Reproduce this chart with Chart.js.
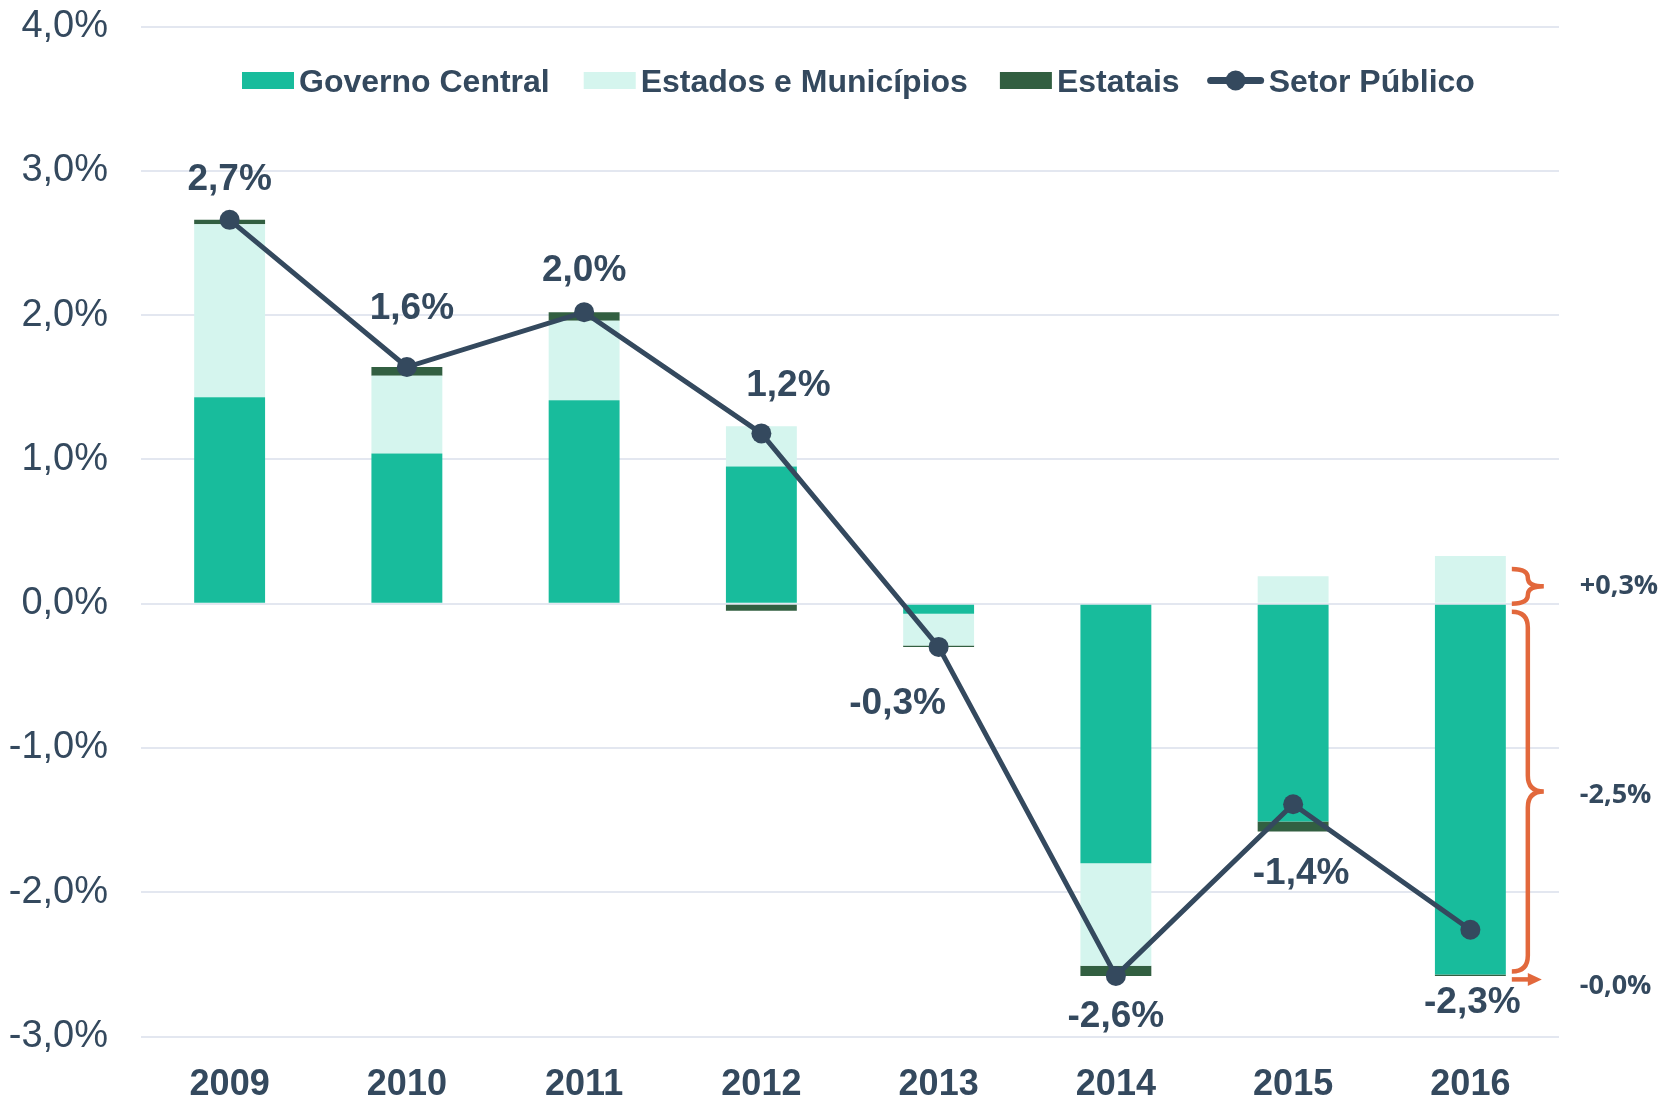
<!DOCTYPE html>
<html>
<head>
<meta charset="utf-8">
<script src="https://cdn.jsdelivr.net/npm/chart.js@4/dist/chart.umd.min.js"></script>
<style>
  html, body { margin: 0; padding: 0; background: #ffffff; }
  #wrap { width: 1661px; height: 1098px; }
</style>
</head>
<body>
<div id="wrap"><canvas id="c" width="1661" height="1098"></canvas></div>
<script>
// ---- data ----
const categories = ['2009', '2010', '2011', '2012', '2013', '2014', '2015', '2016'];
const governoCentral    = [1.43, 1.04, 1.41, 0.95, -0.07, -1.80, -1.51, -2.57];
const estadosMunicipios = [1.20, 0.54, 0.55, 0.28, -0.22, -0.71, 0.19, 0.33];
const estatais          = [0.03, 0.06, 0.06, -0.05, -0.01, -0.07, -0.07, -0.01];
const setorPublico      = [2.66, 1.64, 2.02, 1.18, -0.30, -2.58, -1.39, -2.26];
const seriesNames = ['Governo Central', 'Estados e Municípios', 'Estatais', 'Setor Público'];
const yMin = -3, yMax = 4, yStep = 1;
const bracketTexts = ['+0,3%', '-2,5%', '-0,0%'];

// ---- styles ----
const FONT = '"Liberation Sans", Arial, Helvetica, sans-serif';
const TEXT = '#34495E';
const C_GOV = '#18BC9C', C_EST = '#D5F5EE', C_ESTATAIS = '#325F41', C_LINE = '#34495E';
const ORANGE = '#E2683C';
const labelOffsets = [[0,-40],[5,-58],[0,-41],[27,-48],[-41,57],[0,41],[8,70],[2,73]];

function fmt(v) { return v.toFixed(1).replace('.', ',') + '%'; }

const labelsPlugin = {
  id: 'valueLabels',
  afterDatasetsDraw(chart) {
    const ctx = chart.ctx;
    const meta = chart.getDatasetMeta(3);
    ctx.save();
    ctx.font = 'bold 37px ' + FONT;
    ctx.fillStyle = TEXT;
    ctx.textAlign = 'center';
    ctx.textBaseline = 'middle';
    meta.data.forEach((pt, i) => {
      const o = labelOffsets[i];
      ctx.fillText(fmt(setorPublico[i]), pt.x + o[0], pt.y + o[1]);
    });
    ctx.restore();
  }
};

const legendPlugin = {
  id: 'customLegend',
  afterDraw(chart) {
    const ctx = chart.ctx;
    ctx.save();
    ctx.font = 'bold 32px ' + FONT;
    ctx.textBaseline = 'middle';
    ctx.textAlign = 'left';
    const colors = [C_GOV, C_EST, C_ESTATAIS, C_LINE];
    const gaps = [34, 32, 28];
    let x = 242;
    const boxY = 72, boxH = 17, textY = 83;
    seriesNames.forEach((name, i) => {
      if (i < 3) {
        ctx.fillStyle = colors[i];
        ctx.fillRect(x, boxY, 52, boxH);
        x += 52;
      } else {
        ctx.strokeStyle = C_LINE;
        ctx.lineWidth = 7;
        ctx.lineCap = 'round';
        ctx.beginPath();
        ctx.moveTo(x + 3, boxY + 8.5);
        ctx.lineTo(x + 53, boxY + 8.5);
        ctx.stroke();
        ctx.fillStyle = C_LINE;
        ctx.beginPath();
        ctx.arc(x + 28, boxY + 8.5, 10, 0, Math.PI * 2);
        ctx.fill();
        x += 56;
      }
      x += 5;
      ctx.fillStyle = TEXT;
      ctx.fillText(name, x, textY);
      x += ctx.measureText(name).width + (gaps[i] || 0);
    });
    ctx.restore();
  }
};

function brace(ctx, x0, y0, y1, w) {
  const mid = (y0 + y1) / 2;
  const r = Math.min(w / 2, (y1 - y0) / 4);
  const xm = x0 + w / 2;
  ctx.beginPath();
  ctx.moveTo(x0, y0);
  ctx.quadraticCurveTo(xm, y0, xm, y0 + r);
  ctx.lineTo(xm, mid - r);
  ctx.quadraticCurveTo(xm, mid, x0 + w, mid);
  ctx.quadraticCurveTo(xm, mid, xm, mid + r);
  ctx.lineTo(xm, y1 - r);
  ctx.quadraticCurveTo(xm, y1, x0, y1);
  ctx.stroke();
}

const bracketPlugin = {
  id: 'brackets',
  afterDraw(chart) {
    const ctx = chart.ctx;
    const ys = chart.scales.y;
    const n = categories.length - 1;
    const bar = chart.getDatasetMeta(0).data[n];
    const x0 = bar.x + bar.width / 2 + 6;
    const w = 32;
    const yEstTop = ys.getPixelForValue(estadosMunicipios[n]) + 13;
    const yZero = ys.getPixelForValue(0);
    const yGovBot = ys.getPixelForValue(governoCentral[n]);
    const yAllBot = ys.getPixelForValue(governoCentral[n] + estatais[n]);
    ctx.save();
    ctx.strokeStyle = ORANGE;
    ctx.fillStyle = ORANGE;
    ctx.lineWidth = 4.5;
    ctx.lineCap = 'butt';
    brace(ctx, x0, yEstTop, yZero, w);
    brace(ctx, x0, yZero + 8, yGovBot - 3, w);
    const ay = yAllBot + 3.5;
    ctx.beginPath();
    ctx.moveTo(x0, ay);
    ctx.lineTo(x0 + 18, ay);
    ctx.stroke();
    ctx.beginPath();
    ctx.moveTo(x0 + 16, ay - 6.5);
    ctx.lineTo(x0 + 30, ay);
    ctx.lineTo(x0 + 16, ay + 6.5);
    ctx.closePath();
    ctx.fill();
    ctx.font = 'bold 27px "Open Sans", ' + FONT;
    ctx.fillStyle = TEXT;
    ctx.textAlign = 'left';
    ctx.textBaseline = 'middle';
    const tx = x0 + 68;
    ctx.fillText(bracketTexts[0], tx, (yEstTop + yZero) / 2);
    ctx.fillText(bracketTexts[1], tx, (yZero + 8 + yGovBot - 3) / 2 + 3.5);
    ctx.fillText(bracketTexts[2], tx, ay + 7);
    ctx.restore();
  }
};

const bgPlugin = {
  id: 'bg',
  beforeDraw(chart) {
    const ctx = chart.ctx;
    ctx.save();
    ctx.fillStyle = '#ffffff';
    ctx.fillRect(0, 0, chart.width, chart.height);
    ctx.restore();
  }
};

new Chart(document.getElementById('c'), {
  data: {
    labels: categories,
    datasets: [
      { type: 'bar', label: seriesNames[0], data: governoCentral, backgroundColor: C_GOV, stack: 'bars', order: 1 },
      { type: 'bar', label: seriesNames[1], data: estadosMunicipios, backgroundColor: C_EST, stack: 'bars', order: 1 },
      { type: 'bar', label: seriesNames[2], data: estatais, backgroundColor: C_ESTATAIS, stack: 'bars', order: 1 },
      { type: 'line', label: seriesNames[3], data: setorPublico, stack: 'line', order: 0,
        borderColor: C_LINE, borderWidth: 5, pointRadius: 10, pointBackgroundColor: C_LINE,
        pointBorderWidth: 0, tension: 0, fill: false }
    ]
  },
  options: {
    responsive: false,
    animation: false,
    devicePixelRatio: 1,
    layout: { padding: { top: 26.5, right: 102, left: 0, bottom: 0 } },
    datasets: { bar: { barPercentage: 1, categoryPercentage: 0.4, borderWidth: 0 } },
    plugins: { legend: { display: false }, tooltip: { enabled: false } },
    scales: {
      x: {
        stacked: true,
        offset: true,
        grid: { display: false, drawTicks: false },
        border: { display: false },
        ticks: { color: TEXT, font: { family: FONT, size: 36, weight: 'bold' }, padding: 27, maxRotation: 0 },
        afterFit(axis) { axis.height = 61.5; axis.paddingLeft = 0; axis.paddingRight = 0; }
      },
      y: {
        stacked: true,
        min: yMin, max: yMax,
        grid: { color: '#E3E7F0', lineWidth: 2, drawTicks: false },
        border: { display: false },
        ticks: { stepSize: yStep, color: TEXT, font: { family: FONT, size: 38 }, padding: 33,
                 callback: (v) => fmt(v) },
        afterFit(axis) { axis.width = 141; axis.paddingTop = 0; axis.paddingBottom = 0; }
      }
    }
  },
  plugins: [bgPlugin, labelsPlugin, legendPlugin, bracketPlugin]
});
</script>
</body>
</html>
